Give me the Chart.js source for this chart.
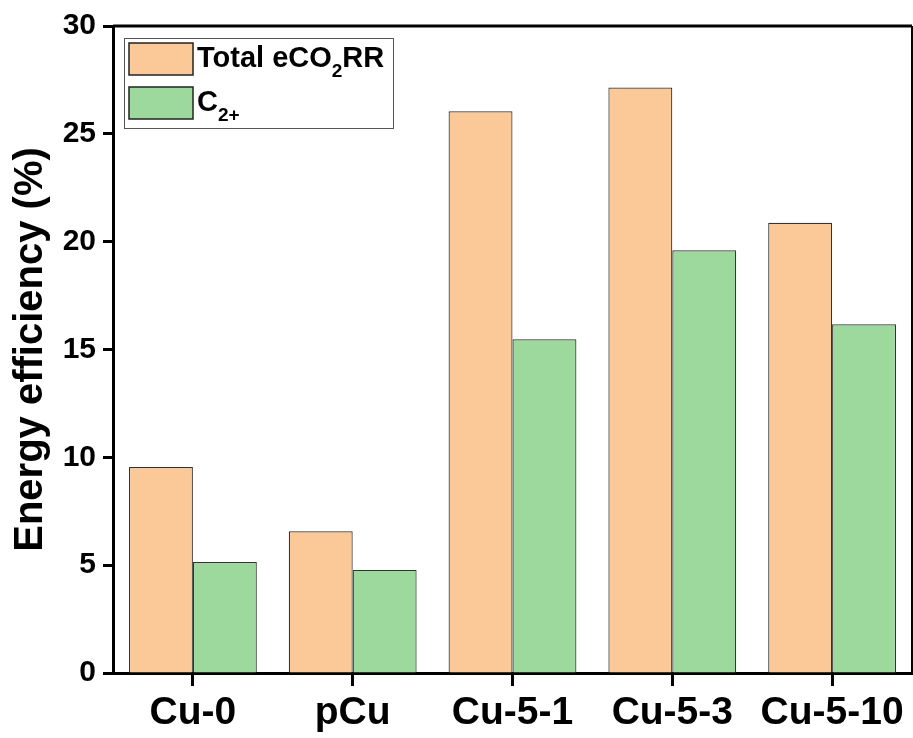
<!DOCTYPE html>
<html>
<head>
<meta charset="utf-8">
<script src="https://cdn.jsdelivr.net/npm/chart.js@4/dist/chart.umd.min.js"></script>
<style>
  html, body { margin: 0; padding: 0; background: #fff; }
  #wrap { width: 913px; height: 738px; }
</style>
</head>
<body>
<div id="wrap"><canvas id="myChart" width="913" height="738"></canvas></div>
<script>
const categories = ["Cu-0", "pCu", "Cu-5-1", "Cu-5-3", "Cu-5-10"];
const totalValues = [9.55, 6.57, 26.05, 27.15, 20.88];
const c2Values = [5.15, 4.78, 15.47, 19.6, 16.17];
// "_{...}" marks a subscript in these names
const seriesNames = ["Total eCO_{2}RR", "C_{2+}"];
const yTicks = [0, 5, 10, 15, 20, 25, 30];

const colors = ["#FBC998", "#9DD89D"];
const FONT = "'Liberation Sans', Arial, sans-serif";

function plainName(s) {
  return s.replace(/_\{([^}]*)\}/g, "$1");
}

// draw a name with subscripts
function drawRich(ctx, text, x, y, size) {
  const parts = text.split(/(_\{[^}]*\})/).filter((p) => p.length);
  parts.forEach((p) => {
    let sub = p.startsWith("_{");
    let str = sub ? p.slice(2, -1) : p;
    let fs = sub ? Math.round(size * 0.66) : size;
    ctx.font = "bold " + fs + "px " + FONT;
    ctx.fillText(str, x, sub ? y + size * 0.36 : y);
    x += ctx.measureText(str).width;
  });
}

// frame on top/right plus the boxed legend
const framePlugin = {
  id: "frame",
  afterDatasetsDraw(chart) {
    const { ctx, chartArea: a } = chart;
    ctx.save();
    ctx.strokeStyle = "#000";
    ctx.lineWidth = 3;
    ctx.beginPath();
    ctx.moveTo(a.left, a.top);
    ctx.lineTo(a.right, a.top);
    ctx.stroke();
    ctx.lineWidth = 2;
    ctx.beginPath();
    ctx.moveTo(a.right, a.top);
    ctx.lineTo(a.right, a.bottom);
    ctx.stroke();

    // legend
    const lx = a.left + 11, ly = a.top + 12;
    ctx.lineWidth = 1;
    ctx.strokeStyle = "#555";
    ctx.strokeRect(lx + 0.5, ly + 0.5, 269, 90);
    seriesNames.forEach((name, i) => {
      const sy = ly + 5 + i * 44;
      ctx.fillStyle = colors[i];
      ctx.fillRect(lx + 5, sy, 64, 32);
      ctx.strokeStyle = "#222";
      ctx.lineWidth = 1.5;
      ctx.strokeRect(lx + 5, sy, 64, 32);
      ctx.fillStyle = "#000";
      ctx.textBaseline = "alphabetic";
      ctx.textAlign = "left";
      drawRich(ctx, name, lx + 73, sy + 24, 29);
    });
    ctx.restore();
  },
};

new Chart(document.getElementById("myChart"), {
  type: "bar",
  data: {
    labels: categories,
    datasets: [
      {
        label: plainName(seriesNames[0]),
        data: totalValues,
        backgroundColor: colors[0],
        borderColor: "#333",
        borderWidth: 1.2,
      },
      {
        label: plainName(seriesNames[1]),
        data: c2Values,
        backgroundColor: colors[1],
        borderColor: "#333",
        borderWidth: 1.2,
      },
    ],
  },
  options: {
    responsive: false,
    animation: false,
    layout: { padding: { top: 26, right: 1, left: 0, bottom: 0 } },
    datasets: {
      bar: { categoryPercentage: 0.8, barPercentage: 1.0 },
    },
    scales: {
      x: {
        grid: {
          offset: false,
          drawOnChartArea: false,
          tickLength: 13,
          tickWidth: 3,
          tickColor: "#000",
        },
        border: { display: true, width: 3, color: "#000" },
        ticks: {
          color: "#000",
          padding: 4,
          maxRotation: 0,
          font: { family: FONT, size: 39, weight: "bold" },
        },
        afterFit: (scale) => { scale.height = 65; },
      },
      y: {
        min: 0,
        max: 30,
        afterBuildTicks: (scale) => {
          scale.ticks = yTicks.map((v) => ({ value: v }));
        },
        grid: {
          drawOnChartArea: false,
          tickLength: 10,
          tickWidth: 3,
          tickColor: "#000",
        },
        border: { display: true, width: 3, color: "#000" },
        ticks: {
          color: "#000",
          padding: 7,
          font: { family: FONT, size: 30, weight: "bold" },
        },
        title: {
          display: true,
          text: "Energy efficiency (%)",
          color: "#000",
          padding: { top: 7, bottom: 0 },
          font: { family: FONT, size: 40, weight: "bold" },
        },
        afterFit: (scale) => { scale.width = 113; },
      },
    },
    plugins: {
      legend: { display: false },
      tooltip: { enabled: false },
    },
  },
  plugins: [framePlugin],
});
</script>
</body>
</html>
